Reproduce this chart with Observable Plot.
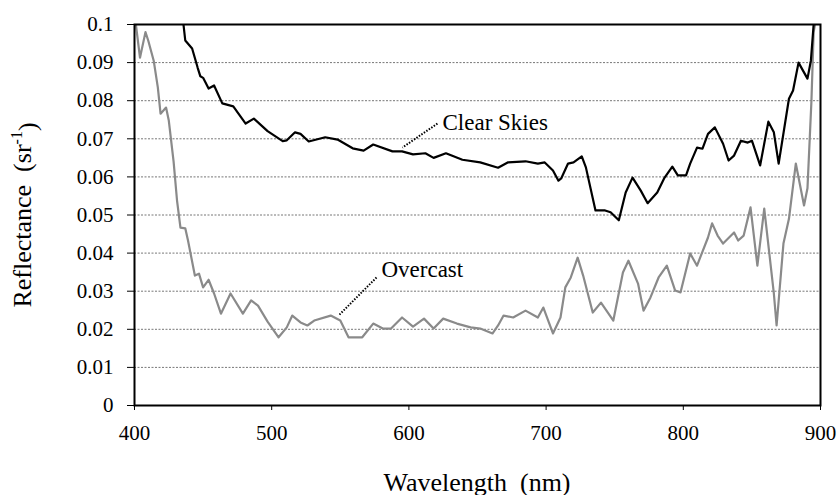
<!DOCTYPE html>
<html>
<head>
<meta charset="utf-8">
<script src="https://cdn.jsdelivr.net/npm/d3@7"></script>
<script src="https://cdn.jsdelivr.net/npm/@observablehq/plot@0.6"></script>
<style>
  html, body { margin: 0; padding: 0; background: #fff; font-family: "Liberation Serif", serif; }
  #chart svg { display: block; }
  #xlabel { width: 839px; box-sizing: border-box; padding: 8px 19px 0 134px; height: 35px; line-height: 30px;
            text-align: center; font-size: 26px; font-family: "Liberation Serif", serif; color: #000; white-space: pre; }
</style>
</head>
<body>
<div id="chart"></div>
<div id="xlabel"></div>
<script>
// Wavelength (nm) and reflectance (sr^-1)
const clearWl = [435.7,437,442,446,448,450,454,458,464,472,481,487,497,508,511,517,521,527,539,548,559,567,574,588,595,603,612,618,627,639,652,665,672,685,694,699,705,709,711,716,720,726,729,736,743,747,753,758,763,769,774,781,786,792,796,802,805,810,814,818,823,829,833,837,842,847,850,856,862,866,869.5,877,880,884,890.5,893,895];
const clearVal = [0.1,0.0958,0.0937,0.0887,0.0864,0.086,0.0832,0.084,0.0793,0.0785,0.074,0.0753,0.072,0.0694,0.0696,0.0717,0.0713,0.0693,0.0704,0.0698,0.0675,0.0669,0.0685,0.0667,0.0667,0.0659,0.0662,0.065,0.0662,0.0645,0.0638,0.0624,0.0638,0.0641,0.0635,0.0638,0.0617,0.059,0.0596,0.0635,0.0638,0.0654,0.0625,0.0512,0.0512,0.0507,0.0486,0.0559,0.0598,0.0564,0.0531,0.0559,0.0596,0.0627,0.0604,0.0604,0.0635,0.0677,0.0674,0.0713,0.073,0.0687,0.0643,0.0656,0.0695,0.069,0.0695,0.063,0.0745,0.0717,0.0635,0.0805,0.0827,0.09,0.0858,0.0905,0.1];

const overWl = [401,404,408,410,414,417,419,423,425,428.5,431,433.5,437,439,444,447,450,454,458,463,470,479,485,490,497,505,511,515,521,526,531,543,550,556,566,574,581,587,595,603,611,618,625,635,645,652,661,665,669,676,685,694,698,705,710.5,714,718,723,727,734,740,749,756,760,767,771,776,782,788,794,798,805,810,818,821,825,829,837,840,844,849,854,859,866,868,873,877,882,888,890.5,893.4,895,896];
const overVal = [0.1,0.0913,0.098,0.0958,0.0905,0.0835,0.0766,0.0782,0.0748,0.064,0.0538,0.0467,0.0465,0.0433,0.0341,0.0346,0.031,0.033,0.0294,0.0241,0.0294,0.0241,0.0276,0.0262,0.022,0.0179,0.0205,0.0236,0.0218,0.021,0.0223,0.0236,0.0223,0.0179,0.0179,0.0215,0.0202,0.0202,0.0231,0.0207,0.0228,0.0202,0.0228,0.0215,0.0205,0.0202,0.0189,0.021,0.0236,0.0231,0.0249,0.0231,0.0257,0.0189,0.0231,0.031,0.0336,0.0388,0.0341,0.0244,0.027,0.0223,0.0349,0.038,0.032,0.0249,0.0283,0.0336,0.0367,0.0302,0.0297,0.0399,0.0367,0.0441,0.0478,0.0446,0.0425,0.0454,0.0433,0.0446,0.052,0.0367,0.0517,0.0294,0.021,0.0425,0.049,0.0635,0.0525,0.057,0.08,0.098,0.1];

const xTicks = [400, 500, 600, 700, 800, 900];
const yTicks = [0, 0.01, 0.02, 0.03, 0.04, 0.05, 0.06, 0.07, 0.08, 0.09, 0.1];
const yTickLabels = ["0", "0.01", "0.02", "0.03", "0.04", "0.05", "0.06", "0.07", "0.08", "0.09", "0.1"];
const gridValues = [0.01, 0.02, 0.03, 0.04, 0.05, 0.06, 0.07, 0.08, 0.09];
const xTitle = "Wavelength  (nm)";
const yTitle = "Reflectance\u00a0 (sr-1)";

// Series labels and their dotted leaders (label anchor -> point on the curve)
const labelNames = ["Clear Skies", "Overcast"];
const labelWl = [624.5, 580];
const labelVal = [0.0743, 0.0357];
const leaderFromWl = [620.8, 576.4];
const leaderFromVal = [0.0740, 0.0336];
const leaderToWl = [595.3, 548.7];
const leaderToVal = [0.0677, 0.0236];

const clear = clearWl.map((w, i) => ({w, v: clearVal[i]}));
const over = overWl.map((w, i) => ({w, v: overVal[i]}));
const labels = labelNames.map((name, i) => ({name, w: labelWl[i], v: labelVal[i]}));
const leaders = labelNames.map((name, i) => ({x1: leaderFromWl[i], y1: leaderFromVal[i], x2: leaderToWl[i], y2: leaderToVal[i]}));

const SERIF = "Liberation Serif, serif";

const chart = Plot.plot({
  width: 839,
  height: 460,
  marginLeft: 134,
  marginRight: 19,
  marginTop: 24,
  marginBottom: 55,
  style: {fontFamily: SERIF},
  x: {domain: [400, 900]},
  y: {domain: [0, 0.1]},
  marks: [
    Plot.ruleY(gridValues, {stroke: "#777", strokeWidth: 1, strokeDasharray: "2,1.5"}),
    Plot.line(over, {x: "w", y: "v", stroke: "#8a8a8a", strokeWidth: 2.2, clip: true}),
    Plot.line(clear, {x: "w", y: "v", stroke: "#000", strokeWidth: 2.2, clip: true}),
    Plot.link(leaders, {x1: "x1", y1: "y1", x2: "x2", y2: "y2", stroke: "#000", strokeWidth: 2, strokeDasharray: "1.5,1.5"}),
    Plot.text(labels, {x: "w", y: "v", text: "name", textAnchor: "start", fontSize: 23, fill: "#000", fontFamily: SERIF}),
    Plot.frame({stroke: "#000", strokeWidth: 2}),
    Plot.axisX({ticks: xTicks, tickSize: 5, tickPadding: 15, fontSize: 21, fontFamily: SERIF, tickFormat: d => String(d), label: null}),
    Plot.axisY({ticks: yTicks, tickSize: 7, tickPadding: 14, fontSize: 21, fontFamily: SERIF,
      tickFormat: d => yTickLabels[yTicks.indexOf(d)] ?? String(d),
      label: yTitle, labelAnchor: "center", labelArrow: "none", labelOffset: 122})
  ]
});

// Serif face on every text element, larger axis title, superscript unit
chart.setAttribute("font-family", SERIF);
chart.querySelectorAll("text").forEach(t => t.setAttribute("font-family", SERIF));
chart.querySelectorAll("g[aria-label='y-axis label'] text").forEach(t => {
  t.setAttribute("font-size", 26);
  const s = t.textContent;
  const i = s.indexOf("-1");
  if (i < 0) return;
  t.textContent = "";
  const ns = "http://www.w3.org/2000/svg";
  const a = document.createElementNS(ns, "tspan"); a.textContent = s.slice(0, i);
  const b = document.createElementNS(ns, "tspan"); b.textContent = "-1";
  b.setAttribute("font-size", 16); b.setAttribute("dy", "-0.55em");
  const c = document.createElementNS(ns, "tspan"); c.textContent = s.slice(i + 2);
  c.setAttribute("dy", "0.55em");
  t.append(a, b, c);
});
document.getElementById("chart").appendChild(chart);
document.getElementById("xlabel").textContent = xTitle;
</script>
</body>
</html>
